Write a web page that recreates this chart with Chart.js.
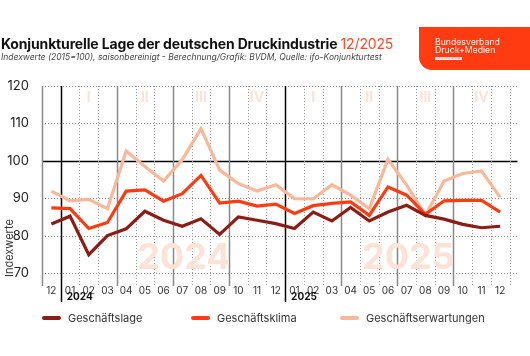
<!DOCTYPE html>
<html><head><meta charset="utf-8">
<script src="https://cdn.jsdelivr.net/npm/chart.js@4.4.0/dist/chart.umd.min.js"></script>
<style>
html,body{margin:0;padding:0;background:#fff;width:530px;height:356px;overflow:hidden;font-family:Inter,"Noto Sans",sans-serif;}
#chart{position:absolute;left:0;top:0}
#title{position:absolute;left:1px;top:35px;font-size:14px;font-weight:700;color:#111;white-space:nowrap;letter-spacing:-0.15px}
#title span{color:#ff4a24;font-weight:400}
#sub{position:absolute;left:1px;top:52px;font-size:8.5px;font-style:italic;color:#444;white-space:nowrap}
#logo{position:absolute;left:419px;top:27px;width:111px;height:43px;background:#ff3b12;border-bottom-left-radius:13px;color:#fff}
#logo .l1{position:absolute;left:16px;top:11px;font-size:8.7px;line-height:8px;font-weight:400;white-space:nowrap}
#logo .l3{position:absolute;left:16px;top:29.5px;width:27px;height:3.5px;background:#fff;color:#ff3b12;font-size:3px;line-height:3.5px;text-align:center;overflow:hidden}
#legend{position:absolute;left:0;top:310px;width:530px;height:16px;font-size:11px;color:#333}
.item{position:absolute;top:0;white-space:nowrap;line-height:16px}
.sw{position:absolute;top:6px;height:3.5px;border-radius:2px;width:19px}
.tx{position:absolute;left:26px;top:0}
</style>
</head><body>
<canvas id="chart" width="530" height="356"></canvas>
<div id="title">Konjunkturelle Lage der deutschen Druckindustrie <span>12/2025</span></div>
<div id="sub">Indexwerte (2015=100), saisonbereinigt - Berechnung/Grafik: BVDM, Quelle: ifo-Konjunkturtest</div>
<div id="logo"><div class="l1">Bundesverband<br>Druck+Medien</div><div class="l3">DEUTSCHLAND</div></div>
<div id="legend"></div>
<script>
const months = ['12','01','02','03','04','05','06','07','08','09','10','11','12','01','02','03','04','05','06','07','08','09','10','11','12'];
const yearLabels = ['2024','2025'];
const quarterLabels = ['I','II','III','IV'];
const yTicks = [70,80,90,100,110,120];
const seriesNames = ['Geschäftslage','Geschäftsklima','Geschäftserwartungen'];
const geschaeftslage = [83.1,85.2,74.9,80.0,81.8,86.5,84.1,82.5,84.5,80.3,85.0,84.1,83.2,81.9,86.3,83.9,87.5,83.9,86.3,88.1,85.4,84.4,83.0,82.1,82.5];
const geschaeftsklima = [87.4,87.2,81.9,83.5,91.9,92.2,89.2,91.2,96.1,88.7,89.2,87.9,88.4,85.9,88.0,88.6,89.0,85.4,93.0,90.8,85.7,89.3,89.4,89.4,86.3];
const geschaeftserwartungen = [91.9,89.3,89.7,87.2,102.6,98.5,94.6,100.3,108.6,97.5,93.9,91.9,93.6,89.9,89.8,93.6,90.8,87.2,100.4,93.5,85.4,94.6,96.6,97.3,90.2];
const colors = ['#8c1c14','#ff3b12','#f9b899'];

const FONT = 'Inter, "Noto Sans", sans-serif';

const decor = {
  id:'decor',
  beforeDatasetsDraw(chart){
    const {ctx, chartArea:a, scales:{x,y}} = chart;
    const n = months.length;
    const step = (a.right - a.left)/n;
    ctx.save();
    yTicks.forEach(v=>{
      const py = Math.round(y.getPixelForValue(v))+0.5;
      ctx.beginPath();
      if(v===100){ctx.setLineDash([]);ctx.strokeStyle='#000';ctx.lineWidth=1.3;}
      else {ctx.setLineDash([1,2]);ctx.strokeStyle='#888';ctx.lineWidth=1;}
      ctx.moveTo(a.left, py); ctx.lineTo(a.right+8, py); ctx.stroke();
    });
    for(let k=0;k<=n;k++){
      const px = Math.round(a.left + k*step)+0.5;
      ctx.beginPath();
      let bottom = a.bottom+13;
      if(k===1||k===13){ctx.setLineDash([]);ctx.strokeStyle='#000';ctx.lineWidth=1.5;bottom=a.bottom+29;}
      else if(k===0||(k-1)%3===0 && k<n){ctx.setLineDash([]);ctx.strokeStyle='#888';ctx.lineWidth=1.5;}
      else {ctx.setLineDash([1,2]);ctx.strokeStyle='#999';ctx.lineWidth=1;}
      ctx.moveTo(px, a.top); ctx.lineTo(px, bottom); ctx.stroke();
    }
    ctx.setLineDash([]);
    ctx.fillStyle = '#fde3d7';
    ctx.textAlign='center'; ctx.textBaseline='alphabetic';
    ctx.font = '700 36px '+FONT;
    yearLabels.forEach((t,j)=>{
      const cx = a.left + (1+12*j+6)*step + 11;
      ctx.fillText(t, cx, a.bottom-4);
    });
    ctx.font = '700 14px '+FONT;
    yearLabels.forEach((t,j)=>{
      quarterLabels.forEach((q,k)=>{
        ctx.fillText(q, x.getPixelForValue(2+12*j+3*k), a.top+16);
      });
    });
    ctx.restore();
  },
  afterDraw(chart){
    const {ctx, chartArea:a} = chart;
    const n = months.length;
    const step = (a.right - a.left)/n;
    ctx.save();
    ctx.fillStyle='#111';
    ctx.font='700 10px '+FONT;
    ctx.textAlign='left'; ctx.textBaseline='middle';
    yearLabels.forEach((t,j)=>{
      ctx.fillText(t, a.left+(1+12*j)*step+6, a.bottom+24);
    });
    ctx.fillStyle='#333';
    ctx.font='400 11px '+FONT;
    ctx.translate(10, a.bottom+4);
    ctx.rotate(-Math.PI/2);
    ctx.textAlign='left';
    ctx.fillText('Indexwerte', 0, 0);
    ctx.restore();
  }
};

new Chart(document.getElementById('chart'), {
  type:'line',
  data:{
    labels: months,
    datasets:[
      {label:seriesNames[0], data:geschaeftslage, borderColor:colors[0], order:1},
      {label:seriesNames[1], data:geschaeftsklima, borderColor:colors[1], order:2},
      {label:seriesNames[2], data:geschaeftserwartungen, borderColor:colors[2], order:3}
    ].map(d=>Object.assign(d,{borderWidth:3.2,pointRadius:0,tension:0,fill:false,borderJoinStyle:'miter',borderCapStyle:'butt'}))
  },
  options:{
    responsive:false, animation:false, devicePixelRatio:1,
    layout:{padding:{top:86,right:20.5,left:0,bottom:0}},
    plugins:{legend:{display:false},tooltip:{enabled:false}},
    scales:{
      x:{offset:true, grid:{display:false}, border:{display:false},
         ticks:{color:'#333',font:{family:FONT,size:10},padding:4,maxRotation:0,autoSkip:false},
         afterFit(s){s.height=83;}},
      y:{min:70,max:120, grid:{display:false}, border:{display:false},
         ticks:{stepSize:10,color:'#222',font:{family:FONT,size:13},padding:5},
         afterFit(s){s.width=42;}}
    }
  },
  plugins:[decor]
});

const leg = document.getElementById('legend');
const legX = [42,191,340];
seriesNames.forEach((nm,i)=>{
  const it = document.createElement('div'); it.className='item'; it.style.left=legX[i]+'px';
  const sw = document.createElement('div'); sw.className='sw'; sw.style.background=colors[i];
  if(i===2){sw.style.height='4.5px';sw.style.top='5.5px';}
  const tx = document.createElement('div'); tx.className='tx'; tx.textContent=nm;
  it.appendChild(sw); it.appendChild(tx); leg.appendChild(it);
});
</script>
</body></html>
